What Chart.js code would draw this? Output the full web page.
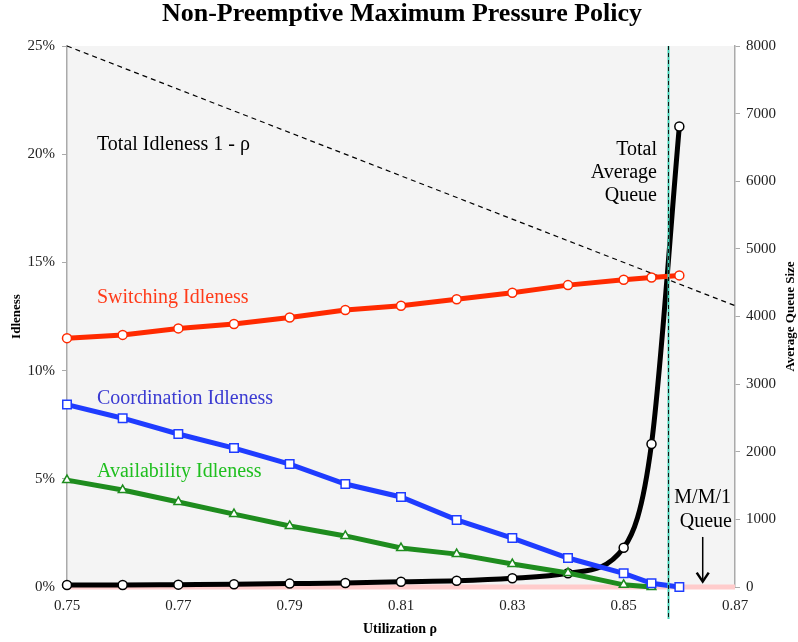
<!DOCTYPE html>
<html>
<head>
<meta charset="utf-8">
<title>Non-Preemptive Maximum Pressure Policy</title>
<script src="https://cdn.jsdelivr.net/npm/chart.js@4.4.1/dist/chart.umd.min.js"></script>
<style>
  html, body { margin: 0; padding: 0; background: #fff; }
  #wrap { width: 798px; height: 642px; position: relative; }
</style>
</head>
<body>
<div id="wrap"><canvas id="chart" width="798" height="642"></canvas></div>
<script>
// utilization levels of the simulated points
var rho = [0.75, 0.76, 0.77, 0.78, 0.79, 0.80, 0.81, 0.82, 0.83, 0.84, 0.85, 0.855, 0.86];

// idleness components, in percent (left axis)
var switchingIdle = [11.5, 11.65, 11.95, 12.15, 12.45, 12.8, 13.0, 13.3, 13.6, 13.95, 14.2, 14.3, 14.4];
var coordinationIdle = [8.43, 7.8, 7.07, 6.42, 5.68, 4.76, 4.16, 3.1, 2.26, 1.34, 0.63, 0.17, 0];
var availabilityIdle = [4.94, 4.48, 3.93, 3.37, 2.82, 2.36, 1.8, 1.52, 1.06, 0.65, 0.1, 0];

// total average queue (right axis)
var totalQueue = [30, 30, 35, 40, 50, 60, 78, 93, 129, 203, 580, 2115, 6810];

// total idleness 1 - rho, two end points of the dashed line
var totalIdleRho = [0.75, 0.87];
var totalIdle = [25, 13];

// M/M/1 queue, flat along the bottom at this scale
var mm1Rho = [0.75, 0.79, 0.83, 0.87];
var mm1Queue = [0, 0, 0, 0];

// stability limit (vertical dashed line) and arrow to the M/M/1 curve
var stabilityRho = 0.858;
var arrowRho = 0.8642;
var arrowFrom = 740;
var arrowTo = 80;

var xTicks = [0.75, 0.77, 0.79, 0.81, 0.83, 0.85, 0.87];

var SERIF = '"Liberation Serif", "Times New Roman", serif';

function pts(xs, ys) {
  var out = [];
  for (var i = 0; i < ys.length; i++) out.push({ x: xs[i], y: ys[i] });
  return out;
}

var decorPlugin = {
  id: 'decor',
  beforeDraw: function (chart) {
    var ctx = chart.ctx, a = chart.chartArea;
    ctx.save();
    ctx.fillStyle = '#f4f4f4';
    ctx.fillRect(a.left, a.top, a.right - a.left, a.bottom - a.top);
    ctx.restore();
  },
  afterDatasetsDraw: function (chart) {
    var ctx = chart.ctx, a = chart.chartArea;
    var xs = chart.scales.x, yq = chart.scales.yQueue;
    ctx.save();

    // stability limit
    var vx = Math.round(xs.getPixelForValue(stabilityRho)) + 0.5;
    ctx.strokeStyle = '#3fd3b6';
    ctx.lineWidth = 2;
    ctx.beginPath(); ctx.moveTo(vx, a.top); ctx.lineTo(vx, a.bottom + 32); ctx.stroke();
    ctx.strokeStyle = '#111';
    ctx.lineWidth = 1;
    ctx.setLineDash([4, 3]);
    ctx.beginPath(); ctx.moveTo(vx, a.top); ctx.lineTo(vx, a.bottom + 32); ctx.stroke();
    ctx.setLineDash([]);

    // arrow
    var ax = xs.getPixelForValue(arrowRho);
    var ay1 = yq.getPixelForValue(arrowFrom), ay2 = yq.getPixelForValue(arrowTo);
    ctx.strokeStyle = '#000';
    ctx.lineWidth = 1.5;
    ctx.beginPath(); ctx.moveTo(ax, ay1); ctx.lineTo(ax, ay2); ctx.stroke();
    ctx.lineWidth = 2.5;
    ctx.beginPath(); ctx.moveTo(ax - 6, ay2 - 9); ctx.lineTo(ax, ay2); ctx.lineTo(ax + 6, ay2 - 9); ctx.stroke();

    // labels
    ctx.textBaseline = 'alphabetic';
    ctx.font = '20px ' + SERIF;
    ctx.textAlign = 'left';
    ctx.fillStyle = '#000';
    ctx.fillText('Total Idleness 1 - \u03c1', 97, 150);
    ctx.fillStyle = '#ff3b1a';
    ctx.fillText('Switching Idleness', 97, 303);
    ctx.fillStyle = '#3a3ad2';
    ctx.fillText('Coordination Idleness', 97, 404);
    ctx.fillStyle = '#1fbf1f';
    ctx.fillText('Availability Idleness', 97, 477);

    ctx.fillStyle = '#000';
    ctx.textAlign = 'right';
    ctx.fillText('Total', 657, 155);
    ctx.fillText('Average', 657, 178);
    ctx.fillText('Queue', 657, 201);
    ctx.fillText('M/M/1', 731, 503);
    ctx.fillText('Queue', 732, 527);

    // titles
    ctx.textAlign = 'center';
    ctx.font = 'bold 26px ' + SERIF;
    ctx.fillText('Non-Preemptive Maximum Pressure Policy', 402, 21);
    ctx.font = 'bold 14px ' + SERIF;
    ctx.fillText('Utilization \u03c1', 400, 633);

    ctx.font = 'bold 13px ' + SERIF;
    ctx.translate(20, (a.top + a.bottom) / 2);
    ctx.rotate(-Math.PI / 2);
    ctx.fillText('Idleness', 0, 0);
    ctx.setTransform(1, 0, 0, 1, 0, 0);
    ctx.translate(794, (a.top + a.bottom) / 2);
    ctx.rotate(-Math.PI / 2);
    ctx.fillText('Average Queue Size', 0, 0);
    ctx.restore();
  }
};

function lineSet(label, data, color, axis, shape, extra) {
  var radius = shape === 'rect' ? 6 : (shape === 'triangle' ? 5 : 4.5);
  var ds = {
    label: label,
    data: data,
    yAxisID: axis,
    borderColor: color,
    borderWidth: 5,
    pointStyle: shape,
    pointRadius: radius,
    pointBackgroundColor: '#fff',
    pointBorderColor: color,
    pointBorderWidth: 1.5,
    tension: 0
  };
  for (var k in extra) ds[k] = extra[k];
  return ds;
}

new Chart(document.getElementById('chart'), {
  type: 'line',
  data: {
    datasets: [
      lineSet('Switching Idleness', pts(rho, switchingIdle), '#ff2a00', 'yIdle', 'circle', {}),
      lineSet('Coordination Idleness', pts(rho, coordinationIdle), '#1f3cff', 'yIdle', 'rect', {}),
      lineSet('Availability Idleness', pts(rho, availabilityIdle), '#1e8c1e', 'yIdle', 'triangle', {}),
      lineSet('Total Average Queue', pts(rho, totalQueue), '#000', 'yQueue', 'circle', { cubicInterpolationMode: 'monotone' }),
      {
        label: 'M/M/1 Queue',
        data: pts(mm1Rho, mm1Queue),
        yAxisID: 'yQueue',
        borderColor: '#ffcccc',
        borderWidth: 5,
        pointRadius: 0
      },
      {
        label: 'Total Idleness 1 - rho',
        data: pts(totalIdleRho, totalIdle),
        yAxisID: 'yIdle',
        borderColor: '#000',
        borderWidth: 1.2,
        borderDash: [5, 4],
        pointRadius: 0
      }
    ]
  },
  options: {
    responsive: false,
    animation: false,
    clip: false,
    layout: { padding: { top: 46, left: 0, right: 0, bottom: 0 } },
    plugins: { legend: { display: false }, tooltip: { enabled: false } },
    scales: {
      x: {
        type: 'linear',
        min: 0.75,
        max: 0.87,
        afterFit: function (s) { s.height = 55; },
        afterBuildTicks: function (s) { s.ticks = xTicks.map(function (v) { return { value: v }; }); },
        grid: { display: false, drawTicks: false },
        border: { display: true, color: '#aaa', width: 1 },
        ticks: {
          padding: 10,
          color: '#222',
          font: { family: SERIF, size: 15 },
          maxRotation: 0,
          callback: function (v) { return v.toFixed(2); }
        }
      },
      yIdle: {
        position: 'left',
        min: 0,
        max: 25,
        afterFit: function (s) { s.width = 67; },
        grid: { drawOnChartArea: false, tickLength: 5, color: '#aaa' },
        border: { display: true, color: '#aaa', width: 1.5 },
        ticks: {
          stepSize: 5,
          padding: 7,
          color: '#222',
          font: { family: SERIF, size: 15 },
          callback: function (v) { return v + '%'; }
        }
      },
      yQueue: {
        position: 'right',
        min: 0,
        max: 8000,
        afterFit: function (s) { s.width = 63; },
        grid: { drawOnChartArea: false, tickLength: 5, color: '#aaa' },
        border: { display: true, color: '#aaa', width: 1.5 },
        ticks: {
          stepSize: 1000,
          padding: 6,
          color: '#222',
          font: { family: SERIF, size: 15 },
          callback: function (v) { return String(v); }
        }
      }
    }
  },
  plugins: [decorPlugin]
});
</script>
</body>
</html>
